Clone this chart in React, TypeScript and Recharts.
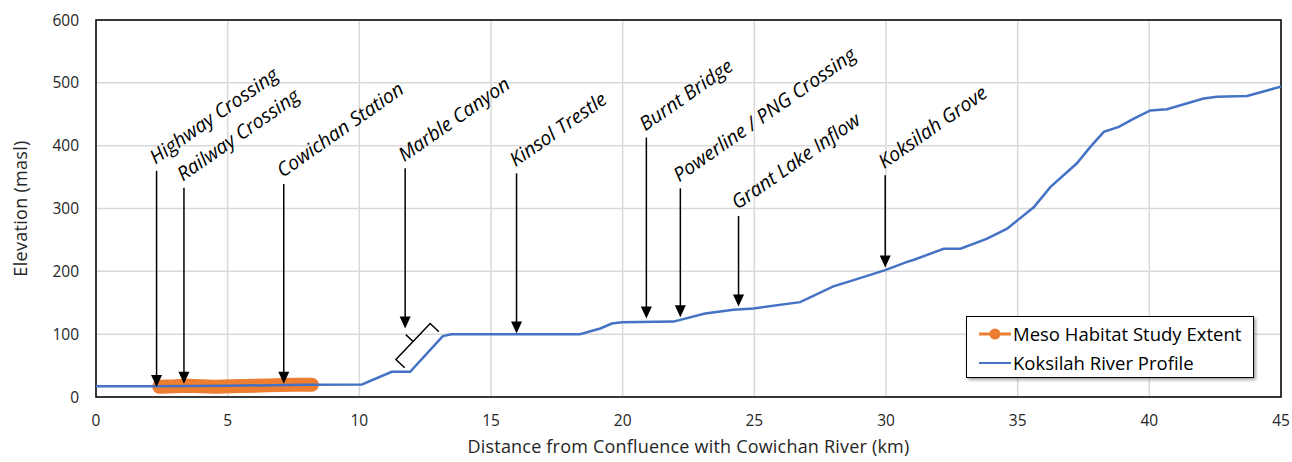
import React from 'react';
import {
  LineChart,
  Line,
  XAxis,
  YAxis,
  CartesianGrid,
  ReferenceLine,
  ReferenceArea,
  Legend,
  Label,
} from 'recharts';

// Koksilah River longitudinal profile (km from confluence, elevation masl)
const profileKm = [0, 2.3, 5, 8, 10.1, 11.23, 11.93, 13.17, 13.5, 18.38, 19.15, 19.59, 19.97, 21.93, 23.13, 24.21, 24.97, 26.74, 28.0, 28.77, 29.97, 30.8, 31.04, 32.19, 32.83, 33.84, 34.6, 35.61, 36.24, 37.25, 37.76, 38.27, 38.84, 39.41, 40.04, 40.67, 42.06, 42.57, 43.71, 45];
const profileElev = [17, 17, 18, 19.5, 20, 40, 40, 97, 100, 100, 109, 117, 119, 120, 133, 139, 141, 151, 176, 186, 202, 215, 218, 236, 236, 252, 268, 302, 334, 372, 398, 422, 430, 443, 456, 458, 475, 478, 479, 494];

// meso habitat study extent
const mesoKm = [2.4, 3.0, 3.5, 4.5, 5.5, 6.5, 7.5, 8.2];
const mesoElev = [16.5, 17, 18, 16.5, 17.5, 18.5, 19.5, 19.5];

// annotated sites: arrow position, arrow top and arrow tip (masl)
const siteNames = ['Highway Crossing', 'Railway Crossing', 'Cowichan Station', 'Marble Canyon', 'Kinsol Trestle', 'Burnt Bridge', 'Powerline / PNG Crossing', 'Grant Lake Inflow', 'Koksilah Grove'];
const siteKm = [2.3, 3.34, 7.13, 11.74, 15.97, 20.9, 22.19, 24.4, 29.97];
const siteTop = [360, 333, 339, 364, 356, 413, 332, 288, 353];
const siteTip = [16, 21, 21, 109, 101, 125, 127, 144, 206];

// bracket over the Marble Canyon reach
const bracketKm = [11.39, 12.69];
const bracketElev = [59.6, 116.9];

const xTicks = [0, 5, 10, 15, 20, 25, 30, 35, 40, 45];
const yTicks = [0, 100, 200, 300, 400, 500, 600];

const seriesNames = ['Meso Habitat Study Extent', 'Koksilah River Profile'];
const BLUE = '#4472C4';
const ORANGE = '#ED7D31';
const FONT = '"Open Sans", sans-serif';

const profileData = profileKm.map((km, i) => ({ km, elev: profileElev[i] }));
const mesoData = mesoKm.map((km, i) => ({ km, elev: mesoElev[i] }));

const Arrow = (props: any) => {
  const { x1, y1, x2, y2, text } = props;
  const top = Math.min(y1, y2);
  const tip = Math.max(y1, y2);
  const head = 12;
  const hw = 5.5;
  const tx = x1 - 1;
  const ty = top - 6;
  return (
    <g>
      <line x1={x1} y1={top} x2={x2} y2={tip - head + 1} stroke="#000" strokeWidth={1.5} />
      <polygon points={`${x2 - hw},${tip - head} ${x2 + hw},${tip - head} ${x2},${tip}`} fill="#000" />
      <text
        x={tx}
        y={ty}
        transform={`rotate(-35 ${tx} ${ty})`}
        fontStyle="italic"
        fontSize={19.5}
        fontFamily={FONT}
        fill="#000"
      >
        {text}
      </text>
    </g>
  );
};

const Bracket = (props: any) => {
  const { x1, y1, x2, y2 } = props;
  const len = Math.hypot(x2 - x1, y2 - y1);
  // perpendicular pointing towards the river line (down-right)
  let nx = -(y2 - y1) / len;
  let ny = (x2 - x1) / len;
  if (nx < 0) {
    nx = -nx;
    ny = -ny;
  }
  const mx = (x1 + x2) / 2;
  const my = (y1 + y2) / 2;
  const d = [
    `M${x1 + nx * 12},${y1 + ny * 12}`,
    `L${x1},${y1}`,
    `L${x2},${y2}`,
    `L${x2 + nx * 12},${y2 + ny * 12}`,
    `M${mx},${my}`,
    `L${mx - nx * 10},${my - ny * 10}`,
  ].join(' ');
  return <path d={d} fill="none" stroke="#000" strokeWidth={1.5} />;
};

const LegendBox = () => (
  <div
    style={{
      width: 274,
      height: 58,
      border: '1.5px solid #000',
      background: '#fff',
      boxShadow: '2px 2px 3px rgba(0,0,0,0.35)',
      fontFamily: FONT,
      fontSize: 18.5,
      color: '#000',
      padding: '2px 0 0 12px',
      whiteSpace: 'nowrap',
    }}
  >
    {seriesNames.map((name, i) => (
      <div key={name} style={{ display: 'flex', alignItems: 'center', height: 29 }}>
        <svg width={32} height={14} style={{ marginRight: 2, flex: 'none' }}>
          <line x1={0} y1={7} x2={32} y2={7} stroke={i === 0 ? ORANGE : BLUE} strokeWidth={i === 0 ? 3 : 2} />
          {i === 0 && <circle cx={16} cy={7} r={5.5} fill={ORANGE} />}
        </svg>
        <span>{name}</span>
      </div>
    ))}
  </div>
);

const AxisTitleY = (props: any) => {
  const { viewBox } = props;
  const x = viewBox.x - 16;
  const y = viewBox.y + viewBox.height / 2;
  return (
    <text x={x} y={y} transform={`rotate(-90 ${x} ${y})`} textAnchor="middle" dominantBaseline="central" fontSize={18} letterSpacing={0.3} fontFamily={FONT} fill="#262626">
      Elevation (masl)
    </text>
  );
};

const AxisTitleX = (props: any) => {
  const { viewBox } = props;
  const x = viewBox.x + viewBox.width / 2;
  const y = viewBox.y + 49;
  return (
    <text x={x} y={y} textAnchor="middle" dominantBaseline="central" fontSize={18} letterSpacing={0.2} fontFamily={FONT} fill="#262626">
      Distance from Confluence with Cowichan River (km)
    </text>
  );
};

export default function App() {
  return (
    <div style={{ position: 'absolute', left: 0, top: 0, background: '#fff' }}>
      <LineChart width={1292} height={462} margin={{ top: 20, right: 11, bottom: 35, left: 36 }}>
        <CartesianGrid stroke="#d9d9d9" strokeWidth={1.5} />
        <XAxis
          dataKey="km"
          type="number"
          domain={[0, 45]}
          ticks={xTicks}
          height={30}
          axisLine={false}
          tickLine={false}
          tickMargin={12}
          tick={{ fontSize: 15.5, fontFamily: FONT, fill: '#262626' }}
        >
          <Label content={<AxisTitleX />} />
        </XAxis>
        <YAxis
          type="number"
          domain={[0, 600]}
          ticks={yTicks}
          width={60}
          axisLine={false}
          tickLine={false}
          tickMargin={11}
          tick={{ fontSize: 15.5, fontFamily: FONT, fill: '#262626' }}
        >
          <Label content={<AxisTitleY />} />
        </YAxis>
        <ReferenceArea x1={0} x2={45} y1={0} y2={600} fill="none" stroke="#000" strokeWidth={1.5} fillOpacity={0} />
        <Line
          data={mesoData}
          dataKey="elev"
          name={seriesNames[0]}
          stroke={ORANGE}
          strokeWidth={14}
          strokeLinecap="round"
          strokeLinejoin="round"
          dot={false}
          isAnimationActive={false}
        />
        <Line
          data={profileData}
          dataKey="elev"
          name={seriesNames[1]}
          stroke={BLUE}
          strokeWidth={2.5}
          dot={false}
          isAnimationActive={false}
        />
        {siteNames.map((name, i) => (
          <ReferenceLine
            key={name}
            segment={[
              { x: siteKm[i], y: siteTop[i] },
              { x: siteKm[i], y: siteTip[i] },
            ]}
            shape={(p: any) => <Arrow {...p} text={name} />}
          />
        ))}
        <ReferenceLine
          segment={[
            { x: bracketKm[0], y: bracketElev[0] },
            { x: bracketKm[1], y: bracketElev[1] },
          ]}
          shape={(p: any) => <Bracket {...p} />}
        />
        <Legend
          layout="horizontal"
          verticalAlign="middle"
          align="center"
          content={() => <LegendBox />}
          wrapperStyle={{ left: 966, top: 316, width: 290, height: 63 }}
        />
      </LineChart>
    </div>
  );
}
